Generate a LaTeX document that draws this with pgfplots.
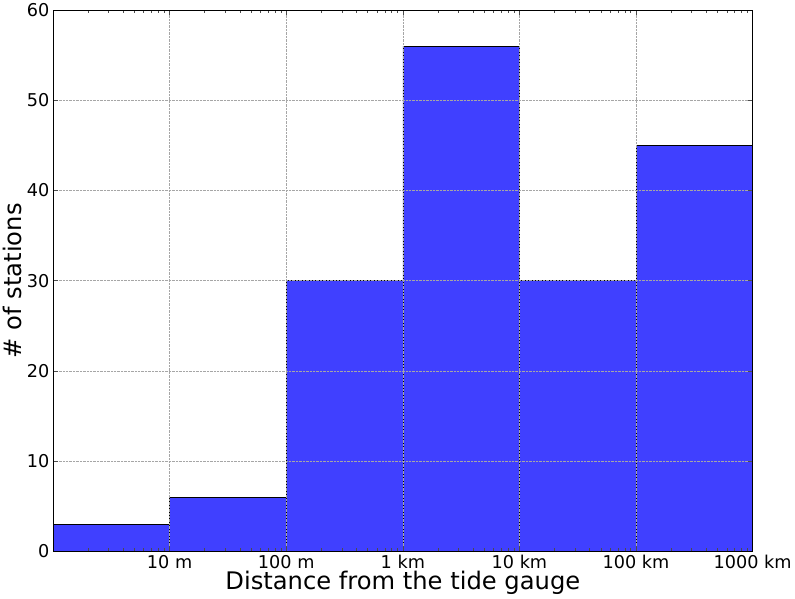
\documentclass[border=0pt]{standalone}
\usepackage{pgfplots}
\pgfplotsset{compat=1.18}
\usepackage{fontspec}
\setmainfont{DejaVu Sans}
\definecolor{barblue}{HTML}{4040FF}
\begin{document}
\begin{tikzpicture}
\begin{axis}[
    scale only axis,
    width=694pt, height=537pt,
    xmode=log, log basis x=10,
    xmin=1, xmax=1e6, ymin=0, ymax=60,
    xtick={10,100,1000,10000,100000,1000000},
    xticklabels={10 m,100 m,1 km,10 km,100 km,1000 km},
    minor xtick={2,3,4,5,6,7,8,9,20,30,40,50,60,70,80,90,
        200,300,400,500,600,700,800,900,2000,3000,4000,5000,6000,7000,8000,9000,
        20000,30000,40000,50000,60000,70000,80000,90000,
        200000,300000,400000,500000,600000,700000,800000,900000},
    ytick={0,10,...,60},
    /pgf/number format/assume math mode=true,
    tick align=inside,
    major tick length=5pt, minor tick length=3pt,
    tick style={black!70, line width=0.5pt},
    grid=major,
    grid style={densely dotted, black!35, line width=0.5pt},
    axis on top,
    axis line style={line width=0.7pt},
    ticklabel style={font=\fontsize{17.5}{17.5}\selectfont},
    xlabel={Distance from the tide gauge},
    ylabel={\# of stations},
    label style={font=\fontsize{24}{24}\selectfont},
    xlabel style={yshift=4pt},
    ylabel style={yshift=-2pt},
]
\addplot[ybar interval, fill=barblue, draw=black, line width=0.5pt]
    coordinates {(1,3) (10,6) (100,30) (1000,56) (10000,30) (100000,45) (1000000,45)};
\end{axis}
\end{tikzpicture}
\end{document}
